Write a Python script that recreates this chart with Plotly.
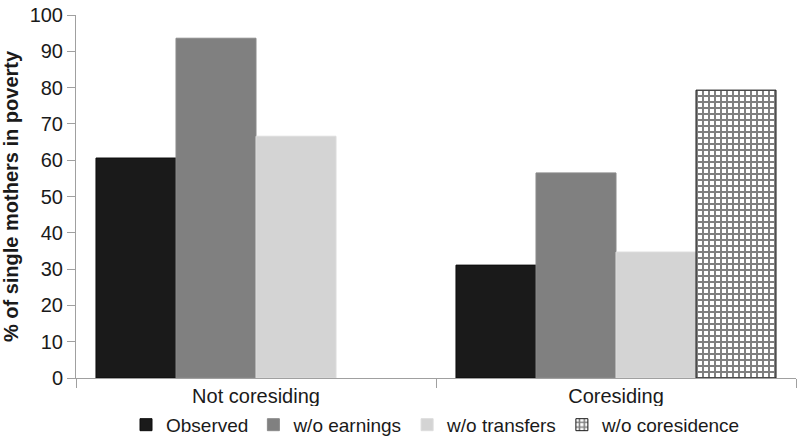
import plotly.graph_objects as go

categories = ["Not coresiding", "Coresiding"]
series_names = ["Observed", "w/o earnings", "w/o transfers", "w/o coresidence"]
observed = [60.6, 31.1]
wo_earnings = [93.6, 56.5]
wo_transfers = [66.6, 34.7]
wo_coresidence = [None, 79.3]
y_ticks = [0, 10, 20, 30, 40, 50, 60, 70, 80, 90, 100]

FONT = "Liberation Sans, Arial, sans-serif"

fig = go.Figure()
fig.add_trace(go.Bar(name=series_names[0], x=categories, y=observed,
                     marker=dict(color="#1a1a1a", line=dict(color="#0d0d0d", width=1))))
fig.add_trace(go.Bar(name=series_names[1], x=categories, y=wo_earnings,
                     marker=dict(color="#808080", line=dict(color="#8a8a8a", width=1))))
fig.add_trace(go.Bar(name=series_names[2], x=categories, y=wo_transfers,
                     marker=dict(color="#d4d4d4", line=dict(color="#dcdcdc", width=1))))
fig.add_trace(go.Bar(name=series_names[3], x=categories, y=wo_coresidence,
                     marker=dict(color="white",
                                 line=dict(color="#1a1a1a", width=1),
                                 pattern=dict(shape="+", fgcolor="#000000", bgcolor="white",
                                              size=6, solidity=0.55, fillmode="overlay"))))

fig.update_layout(
    width=800, height=443,
    margin=dict(l=76, r=4, t=15, b=65, autoexpand=False),
    paper_bgcolor="white", plot_bgcolor="white",
    barmode="group", bargap=0.111, bargroupgap=0,
    font=dict(family=FONT, size=20, color="#1a1a1a"),
    showlegend=True,
    legend=dict(orientation="h", x=0.5, xanchor="center", y=-0.129, yanchor="middle",
                font=dict(family=FONT, size=19, color="#1a1a1a"),
                itemwidth=30, tracegroupgap=0, traceorder="normal"),
    xaxis=dict(showline=True, linecolor="#a0a0a0", linewidth=1, automargin=False,
               ticks="outside", tickson="boundaries", ticklen=9, tickcolor="#a0a0a0",
               tickfont=dict(family=FONT, size=20, color="#1a1a1a"),
               showgrid=False, zeroline=False),
    yaxis=dict(range=[0, 100], tickvals=y_ticks, showline=True, linecolor="#a0a0a0",
               linewidth=1, ticks="outside", ticklen=8, tickcolor="#a0a0a0", automargin=True,
               tickfont=dict(family=FONT, size=20, color="#1a1a1a"),
               showgrid=False, zeroline=False,
               title=dict(text="<b>% of single mothers in poverty</b>",
                          font=dict(family=FONT, size=20, color="#1a1a1a"), standoff=9)),
)

# remove the default 8px page margin so the 800x443 figure fills the window
fig.write_html("out.html", config={"displayModeBar": False},
               post_script="document.body.style.margin='0px';")
